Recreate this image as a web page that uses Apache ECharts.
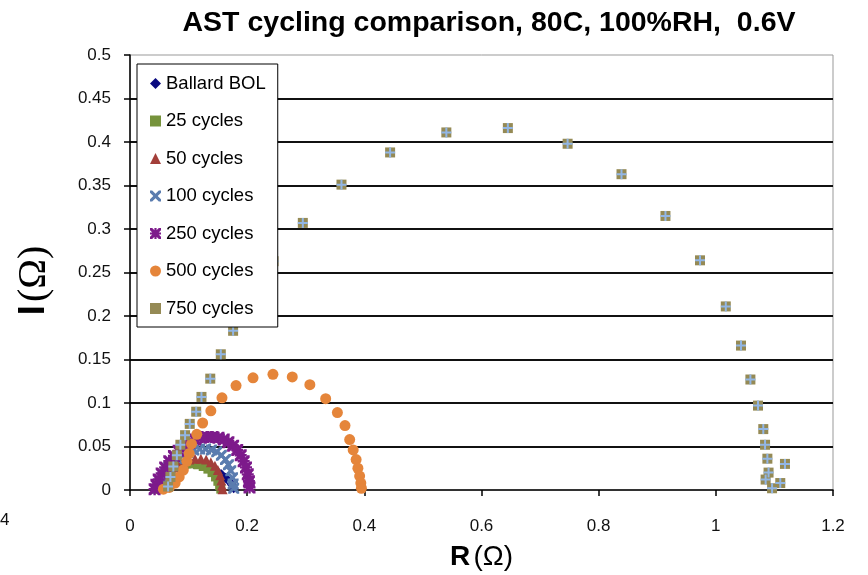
<!DOCTYPE html>
<html style="height: 100%">
   <head>
       <meta charset="utf-8">
   </head>
   <body style="height: 100%; margin: 0; background: #fff">
       <div id="container" style="width: 868px; height: 575px"></div>
       <script type="text/javascript" src="https://cdn.jsdelivr.net/npm/echarts@6/dist/echarts.min.js"></script>
       <script type="text/javascript">
// [R, I] pairs
var ballardBOL = [[0.047,0.001],[0.050,0.006],[0.054,0.011],[0.059,0.016],[0.065,0.020],[0.072,0.024],[0.080,0.027],[0.089,0.029],[0.099,0.030],[0.109,0.030],[0.119,0.029],[0.129,0.028],[0.139,0.025],[0.148,0.022],[0.156,0.018],[0.163,0.014],[0.169,0.010],[0.174,0.006],[0.177,0.002]];
var cycles25 = [[0.045,0.001],[0.048,0.006],[0.052,0.011],[0.057,0.016],[0.063,0.020],[0.070,0.024],[0.078,0.027],[0.087,0.029],[0.096,0.030],[0.106,0.030],[0.116,0.029],[0.125,0.027],[0.133,0.024],[0.140,0.020],[0.146,0.015],[0.150,0.010],[0.153,0.005],[0.155,0.001]];
var cycles50 = [[0.050,0.002],[0.053,0.007],[0.057,0.012],[0.062,0.017],[0.068,0.022],[0.075,0.026],[0.083,0.030],[0.092,0.033],[0.101,0.035],[0.111,0.036],[0.121,0.036],[0.130,0.035],[0.138,0.032],[0.145,0.028],[0.150,0.023],[0.154,0.017],[0.156,0.011],[0.157,0.005],[0.158,0.001]];
var cycles100 = [[0.048,0.002],[0.051,0.008],[0.055,0.014],[0.060,0.020],[0.066,0.026],[0.073,0.031],[0.081,0.036],[0.090,0.040],[0.099,0.043],[0.109,0.046],[0.119,0.047],[0.129,0.047],[0.139,0.046],[0.148,0.044],[0.156,0.040],[0.163,0.035],[0.168,0.029],[0.172,0.022],[0.175,0.014],[0.176,0.007],[0.177,0.002]];
var cycles250 = [[0.042,0.001],[0.045,0.006],[0.049,0.012],[0.054,0.019],[0.060,0.026],[0.067,0.033],[0.075,0.039],[0.083,0.045],[0.092,0.050],[0.101,0.054],[0.111,0.058],[0.121,0.060],[0.131,0.061],[0.141,0.061],[0.151,0.060],[0.160,0.058],[0.168,0.055],[0.176,0.051],[0.183,0.046],[0.189,0.040],[0.194,0.033],[0.198,0.026],[0.201,0.018],[0.203,0.010],[0.204,0.003]];
var cycles500 = [[0.057,0.001],[0.067,0.003],[0.077,0.008],[0.084,0.015],[0.091,0.023],[0.097,0.033],[0.101,0.042],[0.105,0.053],[0.114,0.064],[0.124,0.077],[0.138,0.091],[0.157,0.106],[0.181,0.120],[0.210,0.129],[0.244,0.133],[0.277,0.130],[0.307,0.121],[0.334,0.105],[0.354,0.089],[0.367,0.074],[0.375,0.058],[0.381,0.046],[0.386,0.035],[0.389,0.025],[0.392,0.016],[0.394,0.008],[0.395,0.002]];
var cycles750 = [[0.065,0.004],[0.069,0.015],[0.074,0.027],[0.080,0.040],[0.086,0.052],[0.094,0.063],[0.102,0.076],[0.113,0.090],[0.122,0.107],[0.137,0.128],[0.155,0.156],[0.176,0.183],[0.205,0.218],[0.245,0.263],[0.295,0.307],[0.361,0.351],[0.444,0.388],[0.540,0.411],[0.645,0.416],[0.747,0.398],[0.839,0.363],[0.914,0.315],[0.973,0.264],[1.017,0.211],[1.043,0.166],[1.059,0.127],[1.072,0.097],[1.081,0.070],[1.084,0.052],[1.088,0.036],[1.118,0.030],[1.090,0.020],[1.085,0.012],[1.110,0.008],[1.096,0.002]];

var seriesNames = ['Ballard BOL', '25 cycles', '50 cycles', '100 cycles', '250 cycles', '500 cycles', '750 cycles'];

var dom = document.getElementById("container");
var myChart = echarts.init(dom, null, {renderer: 'canvas'});
var font = '"Liberation Sans", Arial, sans-serif';

var xPath = 'path://M0,0 L2,0 L5,3 L8,0 L10,0 L10,2 L7,5 L10,8 L10,10 L8,10 L5,7 L2,10 L0,10 L0,8 L3,5 L0,2 Z';
var starPath = 'path://M0,0 L2,0 L5,3 L8,0 L10,0 L10,2 L7,5 L10,8 L10,10 L8,10 L5,7 L2,10 L0,10 L0,8 L3,5 L0,2 Z M4,0 L6,0 L6,10 L4,10 Z M0,4 L10,4 L10,6 L0,6 Z';
var plusPath = 'path://M4,0 L6,0 L6,4 L10,4 L10,6 L6,6 L6,10 L4,10 L4,6 L0,6 L0,4 L4,4 Z';

function sc(name, data, symbol, size, color) {
    return {
        name: name, type: 'scatter', data: data,
        symbol: symbol, symbolSize: size,
        itemStyle: {color: color, opacity: 1},
        emphasis: {disabled: true},
        animation: false
    };
}

var option = {
    animation: false,
    title: {
        text: 'AST cycling comparison, 80C, 100%RH,  0.6V',
        left: 484, top: 4, textAlign: 'center',
        textStyle: {fontFamily: font, fontSize: 28.5, fontWeight: 'bold', color: '#000'}
    },
    grid: {
        left: 130, right: 35, top: 55, bottom: 85,
        containLabel: false, outerBoundsMode: 'none',
        show: true, borderColor: '#999', borderWidth: 1, backgroundColor: '#fff'
    },
    legend: {
        orient: 'vertical',
        left: 137, top: 64,
        padding: [10, 12, 9, 13],
        itemGap: 18.5,
        itemWidth: 11, itemHeight: 11,
        backgroundColor: '#fff',
        borderColor: '#000', borderWidth: 1,
        data: seriesNames,
        textStyle: {fontFamily: font, fontSize: 18.5, color: '#000'},
        selectedMode: false
    },
    xAxis: {
        type: 'value', min: 0, max: 1.2, interval: 0.2,
        name: '{b|R} {n|(Ω)}',
        nameLocation: 'middle', nameGap: 53,
        nameTextStyle: {
            rich: {
                b: {fontFamily: font, fontSize: 28, fontWeight: 'bold', color: '#000'},
                n: {fontFamily: font, fontSize: 28, color: '#000'}
            }
        },
        axisLine: {lineStyle: {color: '#000', width: 1.5}},
        axisTick: {length: 6, lineStyle: {color: '#000', width: 1.5}},
        axisLabel: {fontFamily: font, fontSize: 17, color: '#111', margin: 28},
        splitLine: {show: false}
    },
    yAxis: {
        type: 'value', min: 0, max: 0.5, interval: 0.05,
        name: '{b|I} {n|(Ω)}',
        nameLocation: 'middle', nameGap: 76, nameRotate: 90,
        nameTextStyle: {
            padding: [0, 16, 0, 0],
            rich: {
                b: {fontFamily: font, fontSize: 36, fontWeight: 'bold', color: '#000'},
                n: {fontFamily: '"Liberation Serif", "DejaVu Serif", serif', fontSize: 40, color: '#000'}
            }
        },
        axisLine: {lineStyle: {color: '#000', width: 1.5}},
        axisTick: {length: 6, lineStyle: {color: '#000', width: 1.5}},
        axisLabel: {fontFamily: font, fontSize: 17, color: '#111', margin: 19},
        splitLine: {show: true, showMinLine: false, showMaxLine: false, lineStyle: {color: '#111', width: 2}}
    },
    graphic: [{
        type: 'text', left: 0, top: 512,
        style: {text: '4', font: '17px "Liberation Sans", Arial', fill: '#111'}
    }],
    series: [
        sc(seriesNames[0], ballardBOL, 'diamond', 10, '#0a0a80'),
        sc(seriesNames[1], cycles25, 'rect', 9, '#76933c'),
        sc(seriesNames[2], cycles50, 'triangle', 10, '#a33f3a'),
        sc(seriesNames[3], cycles100, xPath, 11, '#5a7caf'),
        sc(seriesNames[4], cycles250, starPath, 12, '#7d1a8b'),
        sc(seriesNames[5], cycles500, 'circle', 11, '#e5853a'),
        sc(seriesNames[6], cycles750, 'rect', 10, '#958a55'),
        sc(seriesNames[6], cycles750, plusPath, 10, '#92b6e4')
    ]
};

myChart.setOption(option);
       </script>
   </body>
</html>
